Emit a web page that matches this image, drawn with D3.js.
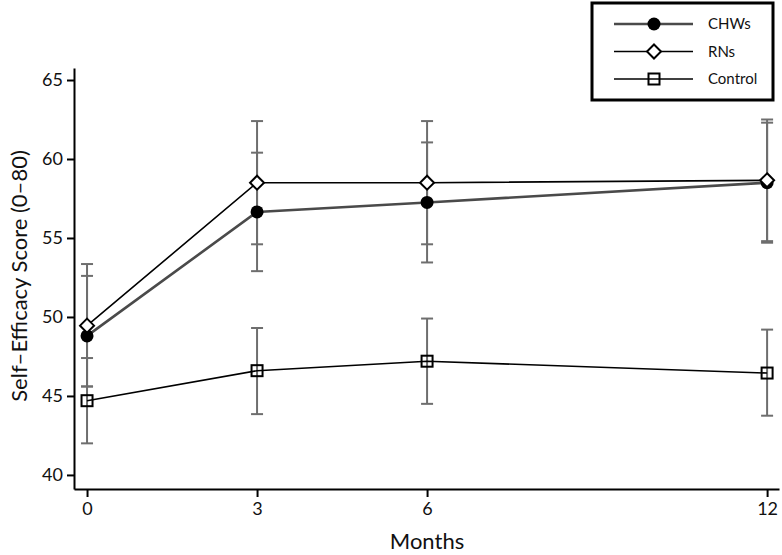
<!DOCTYPE html>
<html>
<head>
<meta charset="utf-8">
<script src="https://cdn.jsdelivr.net/npm/d3@7/dist/d3.min.js"></script>
<style>
  html, body { margin: 0; padding: 0; background: #fff; }
  svg { display: block; }
  text { font-family: Lato, "Open Sans", sans-serif; fill: #111; }
</style>
</head>
<body>
<svg id="chart" width="782" height="555"></svg>
<script>
// ---- data ----
const months = [0, 3, 6, 12];
const xTicks = [0, 3, 6, 12];
const yTicks = [40, 45, 50, 55, 60, 65];

const chwMean = [48.8, 56.65, 57.25, 58.5];
const chwLo   = [45.6, 52.9, 53.45, 54.7];
const chwHi   = [52.6, 60.4, 61.05, 62.3];

const rnMean  = [49.45, 58.5, 58.5, 58.65];
const rnLo    = [45.6, 54.6, 54.6, 54.8];
const rnHi    = [53.35, 62.4, 62.4, 62.5];

const ctlMean = [44.7, 46.6, 47.2, 46.45];
const ctlLo   = [42.0, 43.85, 44.5, 43.75];
const ctlHi   = [47.4, 49.3, 49.9, 49.2];

const seriesNames = ["CHWs", "RNs", "Control"];

// ---- build ----
const svg = d3.select("#chart");
const x = d3.scaleLinear().domain([-0.23, 12.21]).range([74, 779]);
const y = d3.scaleLinear().domain([39.11, 65.76]).range([489, 68]);

const series = [
  { name: seriesNames[0], mean: chwMean, lo: chwLo, hi: chwHi, color: "#4a4a4a", width: 2.6, marker: "circle" },
  { name: seriesNames[1], mean: rnMean, lo: rnLo, hi: rnHi, color: "#000", width: 1.6, marker: "diamond" },
  { name: seriesNames[2], mean: ctlMean, lo: ctlLo, hi: ctlHi, color: "#000", width: 1.6, marker: "square" }
];

// axes
const yAxis = d3.axisLeft(y).tickValues(yTicks).tickSize(7).tickSizeOuter(0).tickPadding(4);
const gy = svg.append("g").attr("transform", "translate(74,0)").call(yAxis);
const xAxis = d3.axisBottom(x).tickValues(xTicks).tickSize(8).tickSizeOuter(0).tickPadding(5);
const gx = svg.append("g").attr("transform", "translate(0,489)").call(xAxis);
[gx, gy].forEach(g => {
  g.select(".domain").attr("stroke", "#000").attr("stroke-width", 2);
  g.selectAll(".tick line").attr("stroke", "#000").attr("stroke-width", 2);
  g.selectAll(".tick text").style("font-size", "18px").style("font-family", "Lato, 'Open Sans', sans-serif").attr("fill", "#111");
});

// axis titles
svg.append("text").attr("x", 427).attr("y", 549).attr("text-anchor", "middle")
  .style("font-size", "22px").text("Months");
svg.append("text").attr("transform", "translate(27,276) rotate(-90)").attr("text-anchor", "middle")
  .style("font-size", "22px").text("Self\u2013Efficacy Score (0\u201380)");

// error bars
const capW = 6;
series.forEach(s => {
  const g = svg.append("g");
  months.forEach((m, i) => {
    const cx = x(m);
    g.append("line").attr("x1", cx).attr("x2", cx).attr("y1", y(s.lo[i])).attr("y2", y(s.hi[i]))
      .attr("stroke", "#6e6e6e").attr("stroke-width", 2);
    [s.lo[i], s.hi[i]].forEach(v => {
      g.append("line").attr("x1", cx - capW).attr("x2", cx + capW).attr("y1", y(v)).attr("y2", y(v))
        .attr("stroke", "#6e6e6e").attr("stroke-width", 2);
    });
  });
});

// lines
const line = d3.line().x((d, i) => x(months[i])).y(d => y(d));
series.forEach(s => {
  svg.append("path").datum(s.mean).attr("d", line).attr("fill", "none")
    .attr("stroke", s.color).attr("stroke-width", s.width);
});

function drawMarker(g, type, cx, cy) {
  if (type === "circle") {
    g.append("circle").attr("cx", cx).attr("cy", cy).attr("r", 6.5).attr("fill", "#000");
  } else if (type === "diamond") {
    const r = 7;
    g.append("path").attr("d", `M${cx},${cy - r}L${cx + r},${cy}L${cx},${cy + r}L${cx - r},${cy}Z`)
      .attr("fill", "#fff").attr("stroke", "#000").attr("stroke-width", 2);
  } else {
    const h = 5.5;
    g.append("rect").attr("x", cx - h).attr("y", cy - h).attr("width", 2 * h).attr("height", 2 * h)
      .attr("fill", "none").attr("stroke", "#000").attr("stroke-width", 2);
  }
}

// markers
series.forEach(s => {
  const g = svg.append("g");
  months.forEach((m, i) => drawMarker(g, s.marker, x(m), y(s.mean[i])));
});

// legend
const lg = svg.append("g");
lg.append("rect").attr("x", 592).attr("y", 3).attr("width", 181).attr("height", 97)
  .attr("fill", "#fff").attr("stroke", "#000").attr("stroke-width", 3);
series.forEach((s, i) => {
  const ly = 24 + i * 27.5;
  lg.append("line").attr("x1", 614).attr("x2", 693).attr("y1", ly).attr("y2", ly)
    .attr("stroke", s.color).attr("stroke-width", s.width);
  drawMarker(lg, s.marker, 654, ly);
  lg.append("text").attr("x", 708).attr("y", ly + 5).style("font-size", "15px").text(s.name);
});
</script>
</body>
</html>
